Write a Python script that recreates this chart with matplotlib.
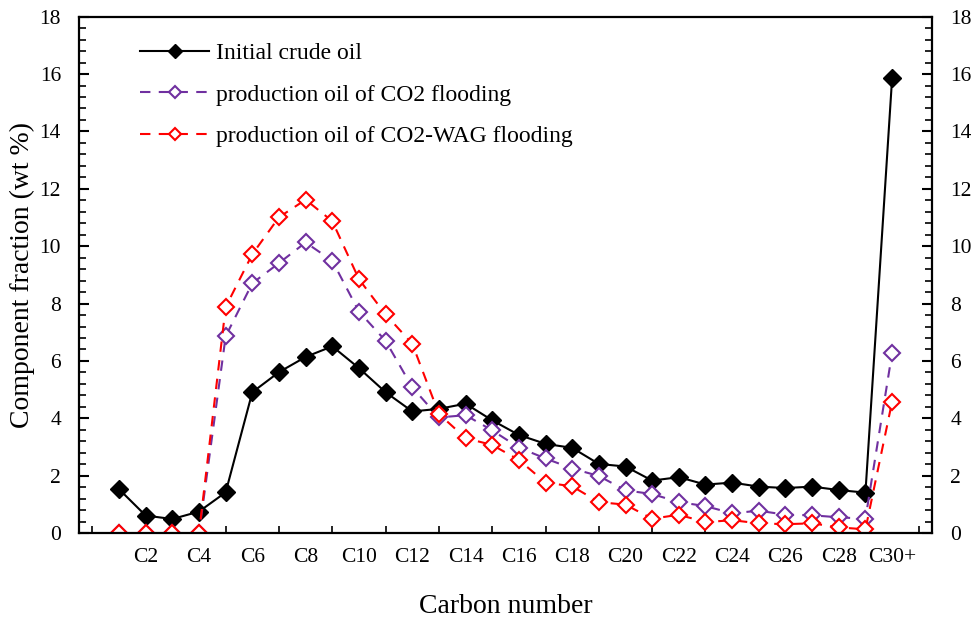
import numpy as np
import matplotlib
matplotlib.use("Agg")
import matplotlib.pyplot as plt
from matplotlib.ticker import MultipleLocator

plt.rcParams["font.family"] = ["Liberation Serif", "DejaVu Serif"]

# carbon number groups C1 .. C29, C30+
carbon_labels = ["C%d" % i for i in range(1, 30)] + ["C30+"]

initial_oil = [1.53, 0.61, 0.49, 0.75, 1.42, 4.91, 5.61, 6.14, 6.51, 5.75,
               4.91, 4.24, 4.33, 4.51, 3.93, 3.42, 3.11, 2.97, 2.41, 2.32,
               1.83, 1.95, 1.69, 1.76, 1.62, 1.57, 1.62, 1.50, 1.41, 15.85]
co2_oil = [0.0, 0.0, 0.0, 0.0, 6.86, 8.71, 9.41, 10.13, 9.49, 7.72,
           6.70, 5.08, 4.03, 4.11, 3.58, 2.98, 2.60, 2.25, 1.99, 1.49,
           1.36, 1.08, 0.94, 0.69, 0.78, 0.64, 0.62, 0.55, 0.50, 6.28]
wag_oil = [0.0, 0.0, 0.0, 0.0, 7.88, 9.72, 11.01, 11.62, 10.87, 8.85,
           7.62, 6.60, 4.15, 3.31, 3.07, 2.55, 1.76, 1.63, 1.08, 0.99,
           0.50, 0.64, 0.38, 0.45, 0.34, 0.31, 0.34, 0.20, 0.13, 4.58]

x = np.arange(1, len(carbon_labels) + 1)

fig = plt.figure(figsize=(9.76, 6.17), dpi=100)
ax = fig.add_axes([0.081, 0.136, 0.874, 0.837])

ax.plot(x, initial_oil, color="black", lw=1.5, marker="D", ms=9,
        mfc="black", mec="black", label="Initial crude oil")
ax.plot(x, co2_oil, color="#7030A0", lw=1.5, ls=(0, (5, 4)), marker="D", ms=8,
        mfc="white", mec="#7030A0", mew=1.5, label="production oil of CO2 flooding")
ax.plot(x, wag_oil, color="#FF0000", lw=1.5, ls=(0, (5, 4)), marker="D", ms=8,
        mfc="white", mec="#FF0000", mew=1.5, label="production oil of CO2-WAG flooding")

ax.set_xlim(-0.5, 31.5)
ax.set_ylim(0, 18)

# every category gets a small tick, only even carbon numbers are labelled
ax.set_xticks(x[1::2])
ax.set_xticklabels(carbon_labels[1::2])
ax.set_xticks(np.arange(0, 32), minor=True)
ax.yaxis.set_major_locator(MultipleLocator(2))
ax.yaxis.set_minor_locator(MultipleLocator(0.4))

ax.tick_params(axis="x", which="both", direction="in", top=False,
               labelsize=15.5, pad=11)
ax.tick_params(axis="x", which="major", length=0)
ax.tick_params(axis="x", which="minor", length=5, width=1.2)
ax.tick_params(axis="y", which="both", direction="in", left=True, right=True,
               labelleft=True, labelright=True, labelsize=15.5, pad=13)
ax.tick_params(axis="y", which="major", length=7, width=1.5)
ax.tick_params(axis="y", which="minor", length=5, width=1.2)

for sp in ax.spines.values():
    sp.set_linewidth(1.6)

ax.set_xlabel("Carbon number", fontsize=20, labelpad=19)
ax.set_ylabel("Component fraction (wt %)", fontsize=20, labelpad=3)

ax.legend(loc="upper left", bbox_to_anchor=(0.072, 0.95), frameon=False,
          fontsize=17, handlelength=2.9, handletextpad=0.3, labelspacing=0.85,
          markerscale=0.75, borderaxespad=0, borderpad=0)

fig.savefig("out.png", dpi=100)
